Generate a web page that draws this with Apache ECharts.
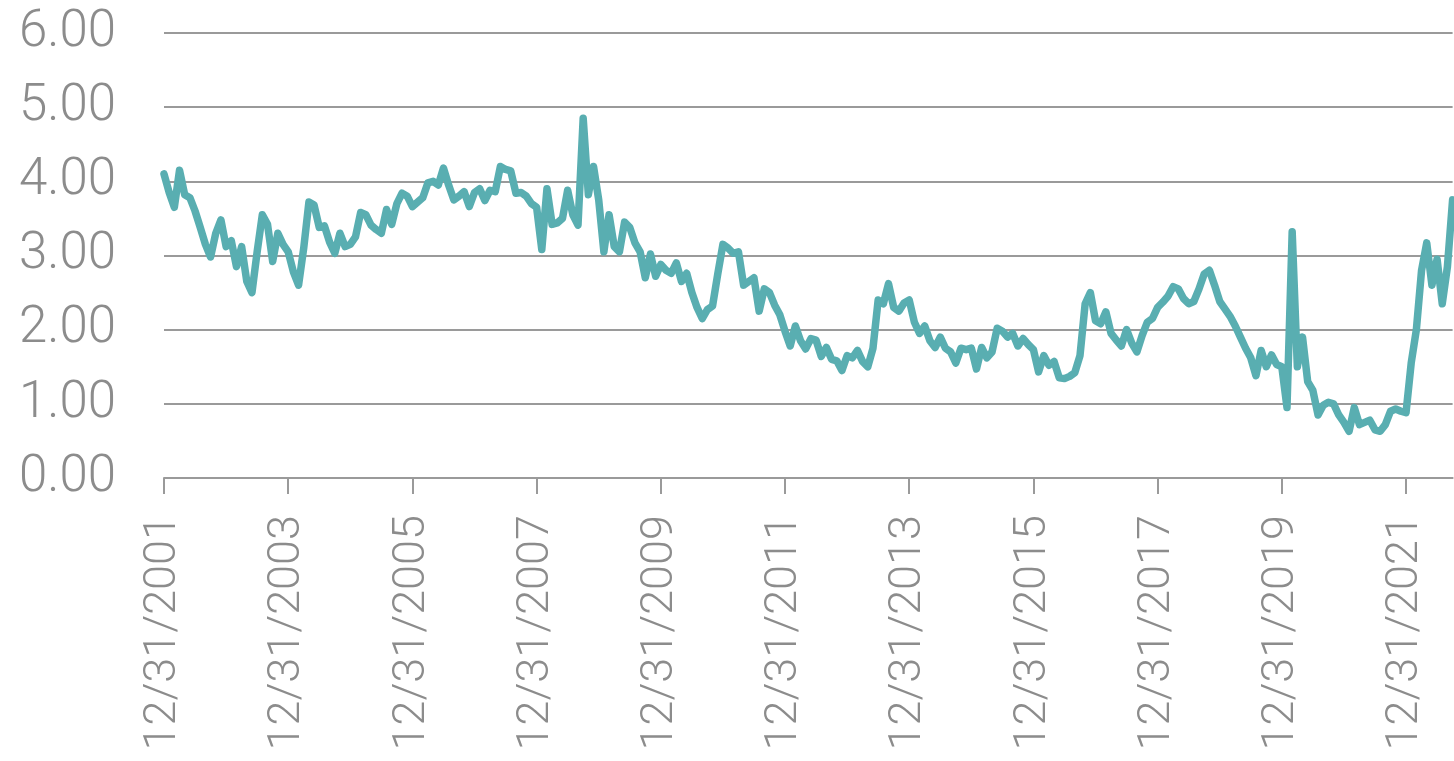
<!DOCTYPE html>
<html>
<head>
<meta charset="utf-8">
<style>
    html, body { margin: 0; padding: 0; background: #fff; }
    #chart { width: 1454px; height: 761px; }
</style>
<script src="https://cdn.jsdelivr.net/npm/echarts@6/dist/echarts.min.js"></script>
</head>
<body>
<div id="chart"></div>
<script>
    // month-end observations, Dec 2001 .. Sep 2022
    var startYear = 2001, startMonth = 12;
    var values = [
        4.10, 3.85, 3.65, 4.15, 3.82, 3.78, 3.60, 3.38, 3.15, 2.98,
        3.30, 3.48, 3.12, 3.20, 2.85, 3.12, 2.65, 2.50, 3.05, 3.55,
        3.42, 2.92, 3.30, 3.15, 3.05, 2.78, 2.60, 3.10, 3.72, 3.68,
        3.38, 3.40, 3.18, 3.03, 3.30, 3.12, 3.15, 3.25, 3.58, 3.55,
        3.41, 3.35, 3.30, 3.62, 3.42, 3.70, 3.84, 3.80, 3.66, 3.72,
        3.78, 3.98, 4.00, 3.95, 4.18, 3.95, 3.75, 3.80, 3.86, 3.66,
        3.85, 3.90, 3.74, 3.88, 3.86, 4.20, 4.16, 4.14, 3.84, 3.85,
        3.80, 3.70, 3.65, 3.08, 3.90, 3.42, 3.44, 3.50, 3.88, 3.55,
        3.41, 4.85, 3.82, 4.20, 3.75, 3.05, 3.55, 3.12, 3.05, 3.45,
        3.38, 3.17, 3.05, 2.70, 3.02, 2.72, 2.88, 2.80, 2.76, 2.90,
        2.65, 2.76, 2.50, 2.30, 2.15, 2.27, 2.32, 2.75, 3.15, 3.10,
        3.03, 3.05, 2.60, 2.65, 2.70, 2.25, 2.55, 2.50, 2.33, 2.20,
        1.98, 1.78, 2.05, 1.85, 1.74, 1.88, 1.86, 1.64, 1.76, 1.60,
        1.58, 1.45, 1.65, 1.62, 1.72, 1.57, 1.50, 1.75, 2.40, 2.35,
        2.62, 2.30, 2.25, 2.36, 2.40, 2.10, 1.95, 2.05, 1.85, 1.76,
        1.90, 1.75, 1.70, 1.55, 1.75, 1.73, 1.75, 1.47, 1.76, 1.62,
        1.70, 2.02, 1.98, 1.90, 1.95, 1.78, 1.88, 1.80, 1.73, 1.43,
        1.65, 1.52, 1.57, 1.35, 1.34, 1.37, 1.42, 1.65, 2.35, 2.50,
        2.12, 2.08, 2.24, 1.95, 1.86, 1.78, 2.00, 1.82, 1.70, 1.92,
        2.10, 2.15, 2.30, 2.37, 2.45, 2.58, 2.55, 2.42, 2.35, 2.38,
        2.55, 2.75, 2.80, 2.60, 2.38, 2.28, 2.18, 2.05, 1.90, 1.75,
        1.62, 1.38, 1.72, 1.50, 1.66, 1.53, 1.50, 0.95, 3.32, 1.50,
        1.90, 1.30, 1.18, 0.85, 0.98, 1.02, 1.00, 0.85, 0.75, 0.63,
        0.95, 0.72, 0.75, 0.78, 0.65, 0.63, 0.72, 0.90, 0.93, 0.90,
        0.88, 1.55, 2.00, 2.80, 3.17, 2.60, 2.95, 2.35, 2.85, 3.75
    ];
    var tickLabels = ['12/31/2001', '12/31/2003', '12/31/2005', '12/31/2007', '12/31/2009',
        '12/31/2011', '12/31/2013', '12/31/2015', '12/31/2017', '12/31/2019', '12/31/2021'];
    var yTicks = [0, 1, 2, 3, 4, 5, 6];

    // month-end date strings m/d/yyyy
    var dates = [];
    for (var i = 0; i < values.length; i++) {
        var m = (startMonth - 1 + i) % 12;
        var y = startYear + Math.floor((startMonth - 1 + i) / 12);
        var last = new Date(y, m + 1, 0).getDate();
        dates.push((m + 1) + '/' + last + '/' + y);
    }
    function isTick(idx) {
        return tickLabels.indexOf(dates[idx]) >= 0;
    }

    var gray = '#8c8c8c';
    var lineGray = '#9a9a9a';
    var font = 'Roboto';

    var chart = echarts.init(document.getElementById('chart'));
    chart.setOption({
        animation: false,
        grid: { left: 164, right: 1.4, top: 33, bottom: 283 },
        xAxis: {
            type: 'category',
            data: dates,
            boundaryGap: false,
            axisLine: { lineStyle: { color: lineGray, width: 2 } },
            axisTick: {
                show: true, length: 16, interval: function (idx) { return isTick(idx); },
                lineStyle: { color: lineGray, width: 2 }
            },
            axisLabel: {
                rotate: 90, margin: 37, interval: function (idx) { return isTick(idx); },
                color: gray, fontSize: 45, fontFamily: font, fontWeight: 300
            },
            splitLine: { show: false }
        },
        yAxis: {
            type: 'value',
            min: yTicks[0], max: yTicks[yTicks.length - 1], interval: 1,
            axisLine: { show: false },
            axisTick: { show: false },
            axisLabel: {
                margin: 48, color: gray, fontSize: 51, fontFamily: font, fontWeight: 300,
                formatter: function (v) { return v.toFixed(2); }
            },
            splitLine: { lineStyle: { color: lineGray, width: 2 } }
        },
        series: [{
            type: 'line',
            data: values,
            showSymbol: false,
            symbol: 'none',
            lineStyle: { color: '#59aeb1', width: 7.5, cap: 'round', join: 'round' }
        }]
    });
</script>
</body>
</html>
